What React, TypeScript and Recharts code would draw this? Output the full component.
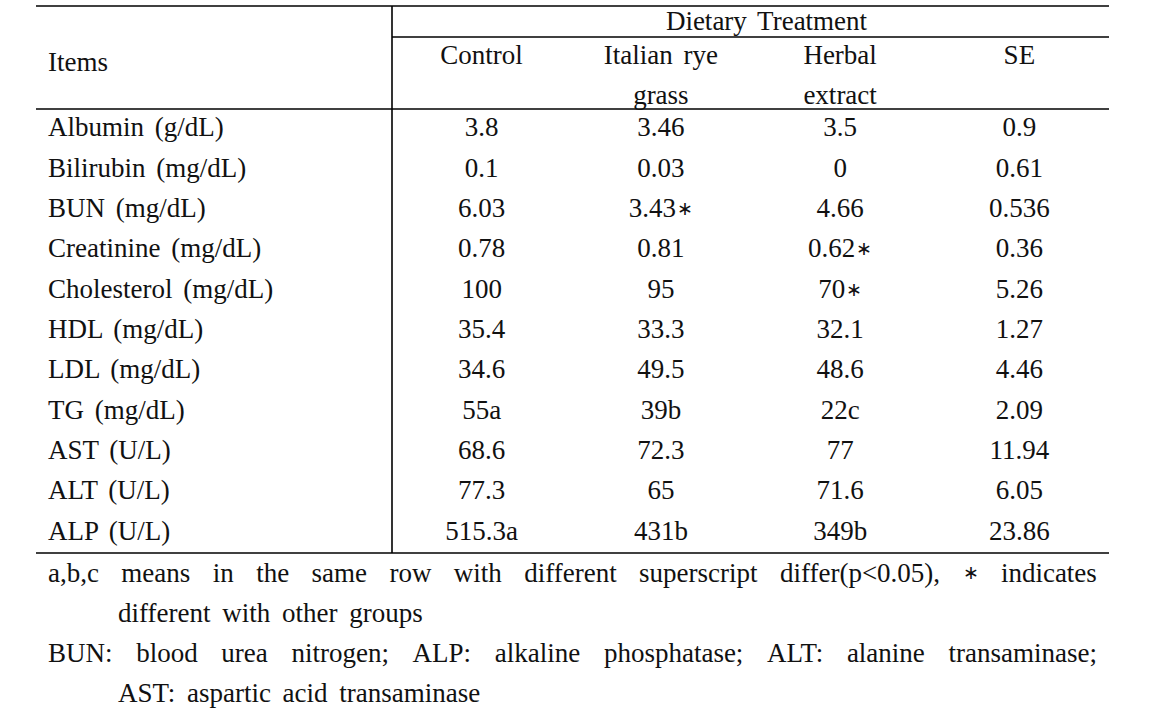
import React from "react"
import { ScatterChart, Scatter, XAxis, YAxis, Customized } from "recharts"

// rows of the table
const items = [
  "Albumin (g/dL)",
  "Bilirubin (mg/dL)",
  "BUN (mg/dL)",
  "Creatinine (mg/dL)",
  "Cholesterol (mg/dL)",
  "HDL (mg/dL)",
  "LDL (mg/dL)",
  "TG (mg/dL)",
  "AST (U/L)",
  "ALT (U/L)",
  "ALP (U/L)",
]

// one list per treatment column
const control = ["3.8", "0.1", "6.03", "0.78", "100", "35.4", "34.6", "55a", "68.6", "77.3", "515.3a"]
const italianRye = ["3.46", "0.03", "3.43∗", "0.81", "95", "33.3", "49.5", "39b", "72.3", "65", "431b"]
const herbal = ["3.5", "0", "4.66", "0.62∗", "70∗", "32.1", "48.6", "22c", "77", "71.6", "349b"]
const se = ["0.9", "0.61", "0.536", "0.36", "5.26", "1.27", "4.46", "2.09", "11.94", "6.05", "23.86"]

const columnHeaders = [["Control"], ["Italian rye", "grass"], ["Herbal", "extract"], ["SE"]]
const groupTitle = "Dietary Treatment"
const itemsTitle = "Items"

const note1 = "a,b,c means in the same row with different superscript differ(p<0.05), ∗ indicates"
const note1b = "different with other groups"
const note2 = "BUN: blood urea nitrogen; ALP: alkaline phosphatase; ALT: alanine transaminase;"
const note2b = "AST: aspartic acid transaminase"

const columns = [control, italianRye, herbal, se]
const cells = items.flatMap((_item, r) =>
  columns.map((col, c) => ({ row: r, col: c, label: col[r] }))
)

const W = 1149
const H = 714
const MARGIN = { top: 0, right: 40, bottom: 161, left: 36 }
const HEADER_H = 109
const ITEMS_W = 356
const TOP_RULE = 6
const GROUP_RULE = 37

const FONT = "'Liberation Serif', 'Times New Roman', serif"
const FS = 27
const INK = "#111"
const STAR = "∗"

const textStyle = { fontFamily: FONT, fontSize: FS, fill: INK, wordSpacing: 4 }

// the significance star is drawn a bit smaller, like the source font
const Label = ({ text }: { text: string }) => {
  if (!text.endsWith(STAR)) return <>{text}</>
  return (
    <>
      {text.slice(0, -1)}
      <tspan style={{ fontSize: 19 }} dx={1}>{STAR}</tspan>
    </>
  )
}

const CellText = (props: any) => {
  const { cx, cy, payload } = props
  return (
    <text x={cx} y={cy - 2} textAnchor="middle" dominantBaseline="central" style={textStyle}>
      <Label text={payload.label} />
    </text>
  )
}

const HeaderTick = (props: any) => {
  const { x, y, payload } = props
  const lines = columnHeaders[payload.value] || []
  return (
    <g>
      {lines.map((line, i) => (
        <text key={i} x={x} y={y - 54 + i * 40} textAnchor="middle" dominantBaseline="central" style={textStyle}>
          {line}
        </text>
      ))}
    </g>
  )
}

const ItemTick = (props: any) => {
  const { x, y, payload } = props
  return (
    <text x={x} y={y - 2} textAnchor="start" dominantBaseline="central" style={textStyle}>
      {items[payload.value]}
    </text>
  )
}

const Rules = () => {
  const left = MARGIN.left
  const right = W - MARGIN.right
  const split = MARGIN.left + ITEMS_W
  const bottom = H - MARGIN.bottom
  const stroke = { stroke: "#000", strokeWidth: 1.6 }
  return (
    <g>
      <line x1={left} x2={right} y1={TOP_RULE} y2={TOP_RULE} {...stroke} />
      <line x1={split} x2={right} y1={GROUP_RULE} y2={GROUP_RULE} {...stroke} />
      <line x1={left} x2={right} y1={HEADER_H} y2={HEADER_H} {...stroke} />
      <line x1={left} x2={right} y1={bottom} y2={bottom} {...stroke} />
      <line x1={split} x2={split} y1={TOP_RULE} y2={bottom} {...stroke} />
      <text x={(split + right) / 2 + 16} y={21} textAnchor="middle" dominantBaseline="central" style={textStyle}>
        {groupTitle}
      </text>
      <text x={left + 12} y={62} textAnchor="start" dominantBaseline="central" style={textStyle}>
        {itemsTitle}
      </text>
    </g>
  )
}

const Word = ({ w }: { w: string }) =>
  w === STAR ? <span style={{ fontSize: 19 }}>{w}</span> : <span>{w}</span>

const Justified = ({ text }: { text: string }) => (
  <div style={{ display: "flex", justifyContent: "space-between" }}>
    {text.split(" ").map((w, i) => (
      <Word key={i} w={w} />
    ))}
  </div>
)

export default function App() {
  return (
    <div style={{ position: "absolute", left: 0, top: 0, width: W, height: H, background: "#fff" }}>
      <ScatterChart width={W} height={H} margin={MARGIN}>
        <XAxis
          type="number"
          dataKey="col"
          orientation="top"
          domain={[-0.5, 3.5]}
          ticks={[0, 1, 2, 3]}
          interval={0}
          height={HEADER_H}
          axisLine={false}
          tickLine={false}
          tickSize={0}
          tickMargin={0}
          tick={<HeaderTick />}
        />
        <YAxis
          type="number"
          dataKey="row"
          domain={[-0.5, 10.5]}
          ticks={items.map((_d, i) => i)}
          interval={0}
          reversed
          width={ITEMS_W}
          axisLine={false}
          tickLine={false}
          tickSize={0}
          tickMargin={ITEMS_W - 12}
          tick={<ItemTick />}
        />
        <Scatter data={cells} isAnimationActive={false} shape={<CellText />} />
        <Customized component={<Rules />} />
      </ScatterChart>
      <div
        style={{
          position: "absolute",
          left: MARGIN.left + 12,
          top: H - MARGIN.bottom,
          width: 1049,
          fontFamily: FONT,
          fontSize: FS,
          lineHeight: "40px",
          color: INK,
          wordSpacing: 5,
        }}
      >
        <Justified text={note1} />
        <div style={{ paddingLeft: 70 }}>{note1b}</div>
        <Justified text={note2} />
        <div style={{ paddingLeft: 70 }}>{note2b}</div>
      </div>
    </div>
  )
}
